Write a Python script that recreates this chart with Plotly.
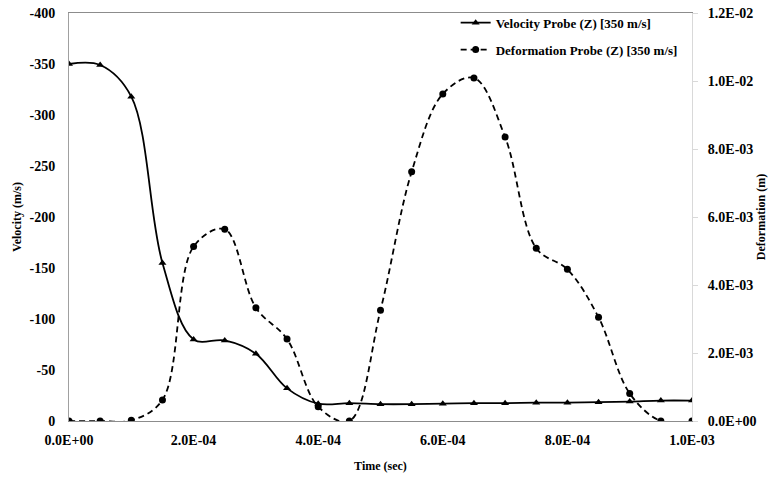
import plotly.graph_objects as go

# Probe time stamps (s)
time_s = [0, 5e-5, 1e-4, 1.5e-4, 2e-4, 2.5e-4, 3e-4, 3.5e-4, 4e-4, 4.5e-4, 5e-4,
          5.5e-4, 6e-4, 6.5e-4, 7e-4, 7.5e-4, 8e-4, 8.5e-4, 9e-4, 9.5e-4, 1e-3]

# Velocity probe (Z), m/s
velocity = [-350, -349, -318, -155, -80, -79, -66, -32, -17, -17.5, -16.5,
            -16.5, -17, -17.5, -17.5, -18, -18, -18.5, -19, -20, -20]

# Deformation probe (Z), m
deformation = [0, 0, 0.00002, 0.00062, 0.00513, 0.00564, 0.00333, 0.00241, 0.00042, 0.0,
               0.00326, 0.00733, 0.00962, 0.01009, 0.00835, 0.00508, 0.00446, 0.00305,
               0.00081, 0.0, 0.0]

x_tickvals = [0, 2e-4, 4e-4, 6e-4, 8e-4, 1e-3]
x_ticktext = ["0.0E+00", "2.0E-04", "4.0E-04", "6.0E-04", "8.0E-04", "1.0E-03"]
y1_tickvals = [-400, -350, -300, -250, -200, -150, -100, -50, 0]
y1_ticktext = ["-400", "-350", "-300", "-250", "-200", "-150", "-100", "-50", "0"]
y2_tickvals = [0, 0.002, 0.004, 0.006, 0.008, 0.010, 0.012]
y2_ticktext = ["0.0E+00", "2.0E-03", "4.0E-03", "6.0E-03", "8.0E-03", "1.0E-02", "1.2E-02"]

FONT = "Liberation Serif"
TICKFONT = dict(family=FONT, size=14, color="black", weight="bold")

fig = go.Figure()
fig.add_trace(go.Scatter(
    x=time_s, y=velocity, name="Velocity Probe (Z) [350 m/s]", legendgroup="v",
    mode="lines+markers", line=dict(color="black", width=1.8, shape="spline"),
    marker=dict(symbol="triangle-up", size=7, color="black"), yaxis="y"))
fig.add_trace(go.Scatter(
    x=time_s, y=deformation, name="Deformation Probe (Z) [350 m/s]", legendgroup="d",
    mode="lines+markers", line=dict(color="black", width=1.8, dash="6px,4px", shape="spline"),
    marker=dict(symbol="circle", size=7, color="black"), yaxis="y2"))

fig.update_layout(
    width=776, height=479,
    margin=dict(l=69, r=84, t=13, b=58, autoexpand=False),
    paper_bgcolor="white", plot_bgcolor="white",
    font=dict(family=FONT, color="black", size=13),
    showlegend=True,
    legend=dict(x=0.985, y=1.013, xanchor="right", yanchor="top",
                bgcolor="rgba(0,0,0,0)",
                font=dict(family=FONT, size=13, weight="bold"),
                tracegroupgap=7, itemwidth=30),
    xaxis=dict(range=[0, 1e-3], tickvals=x_tickvals, ticktext=x_ticktext,
               showgrid=False, zeroline=False, showline=True, mirror=True,
               linecolor="#8c8c8c", linewidth=1.2, ticks="", ticklabelstandoff=6,
               tickfont=TICKFONT, automargin=False,
               title=dict(text="<b>Time (sec)</b>", font=dict(family=FONT, size=12), standoff=14)),
    yaxis=dict(range=[0, -400], tickvals=y1_tickvals, ticktext=y1_ticktext,
               showgrid=False, zeroline=False, showline=True,
               linecolor="#a0a0a0", linewidth=1, ticks="", ticklabelstandoff=10,
               tickfont=TICKFONT, automargin=False,
               title=dict(text="<b>Velocity (m/s)</b>", font=dict(family=FONT, size=12), standoff=5)),
    yaxis2=dict(range=[0, 0.012], tickvals=y2_tickvals, ticktext=y2_ticktext,
                overlaying="y", side="right", showgrid=False, zeroline=False,
                showline=True, linecolor="#d9d9d9", linewidth=1,
                ticks="outside", ticklen=5, tickcolor="#d9d9d9", ticklabelstandoff=7,
                tickfont=TICKFONT, automargin=False,
                title=dict(text="<b>Deformation (m)</b>", font=dict(family=FONT, size=12), standoff=0)),
)

fig.write_html("out.html")
